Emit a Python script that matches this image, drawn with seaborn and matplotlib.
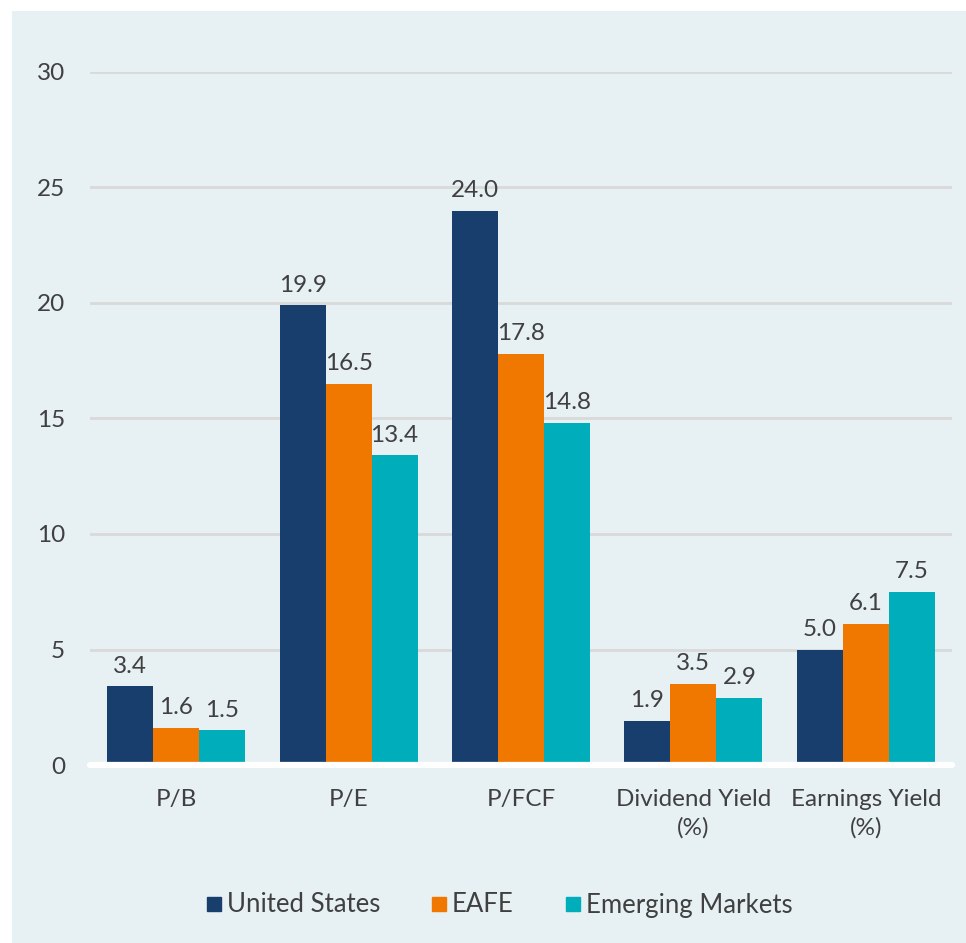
import matplotlib
matplotlib.use("Agg")
import matplotlib.pyplot as plt
import matplotlib.patches as mpatches
from matplotlib.lines import Line2D
import seaborn as sns
import pandas as pd

categories = ["P/B", "P/E", "P/FCF", "Dividend Yield\n(%)", "Earnings Yield\n(%)"]
series = ["United States", "EAFE", "Emerging Markets"]
us = [3.4, 19.9, 24.0, 1.9, 5.0]
eafe = [1.6, 16.5, 17.8, 3.5, 6.1]
em = [1.5, 13.4, 14.8, 2.9, 7.5]
yticks = [0, 5, 10, 15, 20, 25, 30]
colors = ["#183E6E", "#F07800", "#00AEBB"]

rows = []
for s, vals in zip(series, [us, eafe, em]):
    for c, v in zip(categories, vals):
        rows.append({"cat": c, "series": s, "val": v})
df = pd.DataFrame(rows)

sns.set_theme(style="white")
plt.rcParams["font.family"] = ["Lato", "DejaVu Sans"]
txt = "#404040"
bg = "#E7F0F3"
fs = 17.5

fig = plt.figure(figsize=(9.66, 9.43), dpi=100, facecolor="white")
fig.patches.append(mpatches.Rectangle((12/966, 0), 1, 1 - 11/943, transform=fig.transFigure,
                                      facecolor=bg, edgecolor="none", zorder=-10))
ax = fig.add_axes([90/966, 1 - 765/943, (952-90)/966, (765-72)/943])
ax.set_facecolor("none")

sns.barplot(data=df, x="cat", y="val", hue="series", palette=colors, ax=ax,
            width=0.8, saturation=1, legend=False, zorder=3, linewidth=0, edgecolor="none")

for cont in ax.containers:
    for rect in cont:
        h = rect.get_height()
        ax.annotate(f"{h:.1f}", (rect.get_x() + rect.get_width()/2, h),
                    xytext=(0, 7), textcoords="offset points", ha="center", va="bottom",
                    fontsize=fs, color=txt)

ax.set_ylim(0, 30)
ax.set_xlim(-0.5, 4.5)
ax.set_yticks(yticks)
ax.set_yticklabels([str(t) for t in yticks])
for t in yticks[1:]:
    ax.axhline(t, color="#D9D9D9", lw=2, zorder=1)
ax.axhline(0, color="white", lw=4.5, zorder=4, clip_on=False)
for s in ax.spines.values():
    s.set_visible(False)
ax.tick_params(axis="both", length=0, labelsize=fs, colors=txt)
ax.tick_params(axis="y", pad=18)
ax.tick_params(axis="x", pad=17)
ax.set_xlabel("")
ax.set_ylabel("")
for lbl in ax.get_xticklabels():
    lbl.set_linespacing(1.45)

handles = [Line2D([0], [0], marker="s", linestyle="none", markersize=9.5,
                  markerfacecolor=c, markeredgecolor=c) for c in colors]
fig.legend(handles, series, loc="center", bbox_to_anchor=(498/966, 1 - 905/943), ncol=3,
           frameon=False, fontsize=18.5, labelcolor=txt, handletextpad=0.1,
           columnspacing=1.9, handlelength=0.8)

fig.savefig("out.png", dpi=100, facecolor="white")
